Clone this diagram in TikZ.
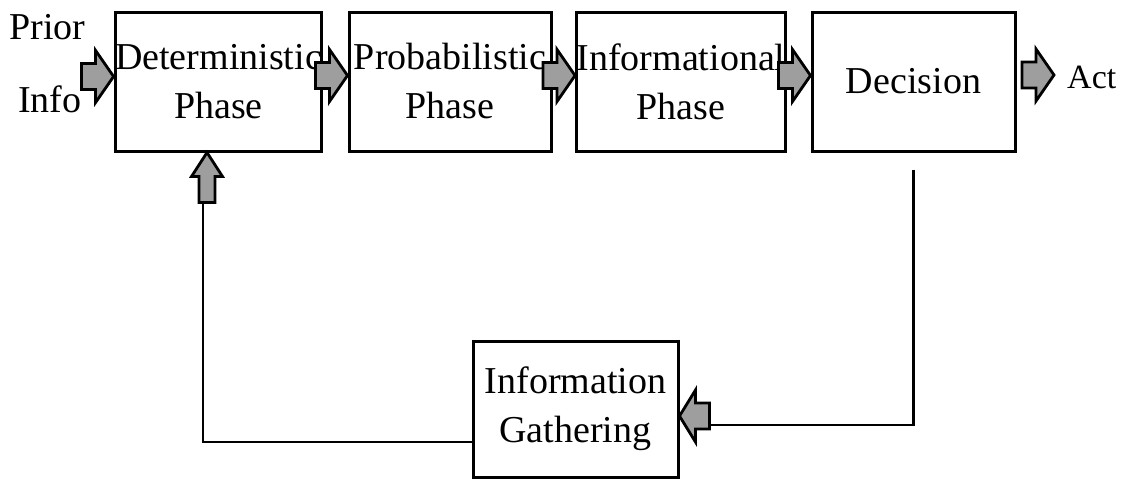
\documentclass[tikz,border=0pt]{standalone}
\usepackage{fontspec}
\setmainfont{Liberation Serif}
\begin{document}
\begin{tikzpicture}[x=1pt, y=-1pt,
  txt/.style={font=\fontsize{38pt}{49pt}\selectfont, inner sep=0pt},
  box/.style={txt, draw, line width=3pt, align=center},
  wire/.style={line width=2.2pt},
  blockarrow/.style={draw, line width=2.8pt, fill=black!38, line join=miter}
]
\useasboundingbox (0,0) rectangle (1122,479);

% right-pointing block arrow whose tip is at #1
\newcommand\rightblock[1]{%
  \draw[blockarrow] (#1) -- ++(-18,-26) -- ++(0,13) -- ++(-14,0) -- ++(0,26)
    -- ++(14,0) -- ++(0,13) -- cycle;}
% left-pointing block arrow whose tip is at #1
\newcommand\leftblock[1]{%
  \draw[blockarrow] (#1) -- ++(16,-26) -- ++(0,13) -- ++(14,0) -- ++(0,26)
    -- ++(-14,0) -- ++(0,13) -- cycle;}
% upward block arrow whose tip is at #1
\newcommand\upblock[1]{%
  \draw[blockarrow] (#1) -- ++(15.5,24) -- ++(-7.5,0) -- ++(0,26) -- ++(-16,0)
    -- ++(0,-26) -- ++(-7.5,0) -- cycle;}

% phase boxes
\node[box, minimum width=205pt, minimum height=139pt] (det) at (218.5,81.5) {Deterministic\\Phase};
\node[box, minimum width=202pt, minimum height=139pt] (prob) at (450,81.5) {Probabilistic\\Phase};
\node[box, minimum width=202pt, minimum height=139pt] (inf) at (681,81.5) {Informational\\Phase};
\node[box, minimum width=203pt, minimum height=139pt] (dec) at (913.5,81.5) {Decision};
\node[box, minimum width=205pt, minimum height=136pt] (gath) at (575.5,409) {Information\\Gathering};

% side labels
\node[txt, anchor=base] (prior) at (47.5,39) {Prior};
\node[txt, anchor=base] (info) at (50,112) {Info};
\node[txt, font=\fontsize{34pt}{40pt}\selectfont, anchor=base west] (act) at (1067,88) {Act};

% flow arrows along the top row (yshift is upward on the page)
\rightblock{[yshift=5pt]det.west}
\rightblock{[yshift=6pt]prob.west}
\rightblock{[yshift=6pt]inf.west}
\rightblock{[yshift=6pt]dec.west}
\coordinate (acttip) at (1054,75);
\rightblock{acttip}

% feedback loop
\coordinate (decout) at ([yshift=-17pt]dec.south);
\coordinate (gathin) at ([yshift=-7pt]gath.east);
\leftblock{gathin}
\draw[wire] (decout) |- ([xshift=30pt,yshift=-9pt]gathin);
\upblock{[xshift=-11.5pt]det.south}
\draw[wire] ([xshift=-15.5pt,yshift=-50pt]det.south) |- ([yshift=-33pt]gath.west);
\end{tikzpicture}
\end{document}
